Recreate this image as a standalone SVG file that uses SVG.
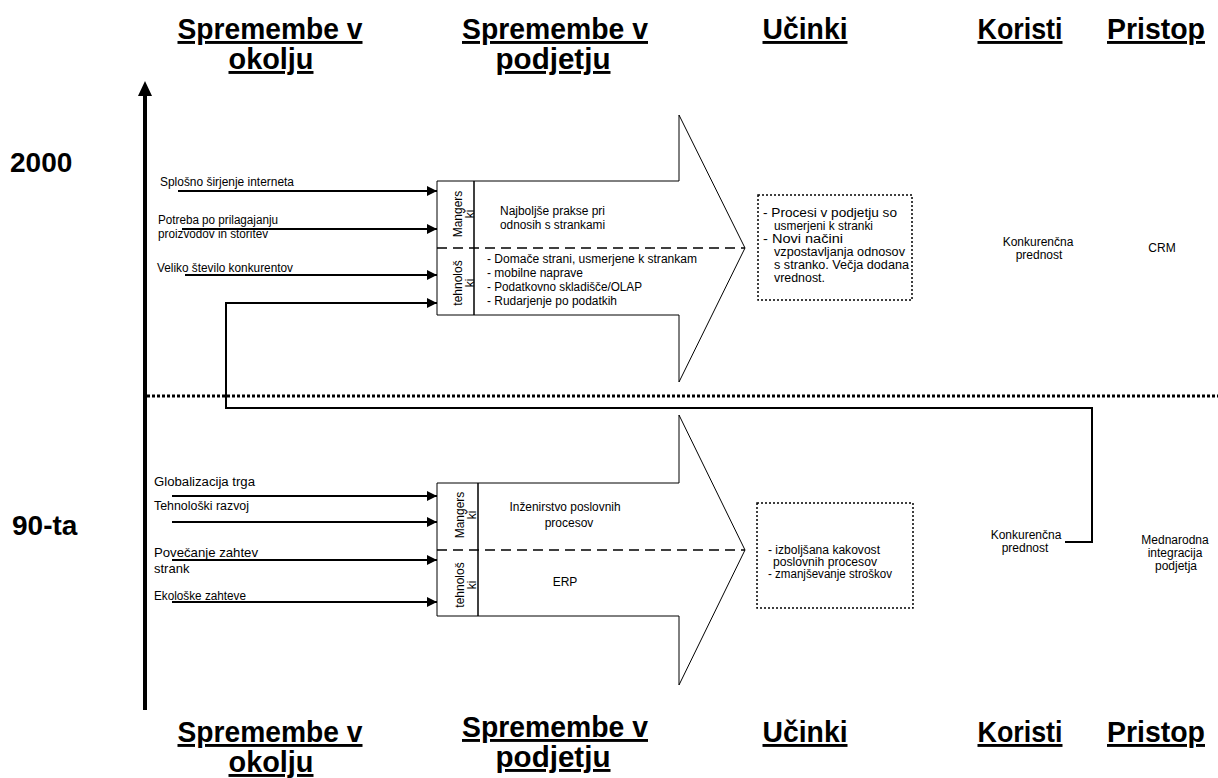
<svg xmlns="http://www.w3.org/2000/svg" width="1218" height="778" viewBox="0 0 1218 778">
<defs>
<marker id="ah" viewBox="0 0 10 10" refX="10" refY="5" markerWidth="5" markerHeight="5" markerUnits="strokeWidth" orient="auto"><path d="M0,0 L10,5 L0,10 z" fill="#000"/></marker>
<style>
text{font-family:"Liberation Sans",Arial,sans-serif;fill:#000}
.hd{font-size:29px;font-weight:bold;text-decoration:underline;text-anchor:middle}
.yr{font-size:28px;font-weight:bold}
.s{font-size:12px}
.m{font-size:13px}
.c{text-anchor:middle}
.in{stroke:#000;stroke-width:2;fill:none;marker-end:url(#ah)}
.big{fill:#fff;stroke:#000;stroke-width:1}
.dash{stroke:#000;stroke-width:1.5;stroke-dasharray:10,6;fill:none}
.dot{fill:none;stroke:#000;stroke-width:1.5;stroke-dasharray:2,2}
</style>
</defs>
<g id="headers-top">
<text class="hd" x="270" y="39" textLength="185" lengthAdjust="spacingAndGlyphs">Spremembe v</text>
<text class="hd" x="271" y="69" textLength="85" lengthAdjust="spacingAndGlyphs">okolju</text>
<text class="hd" x="555" y="39" textLength="186" lengthAdjust="spacingAndGlyphs">Spremembe v</text>
<text class="hd" x="553" y="69" textLength="115" lengthAdjust="spacingAndGlyphs">podjetju</text>
<text class="hd" x="805" y="39" textLength="85" lengthAdjust="spacingAndGlyphs">Učinki</text>
<text class="hd" x="1020" y="39" textLength="85" lengthAdjust="spacingAndGlyphs">Koristi</text>
<text class="hd" x="1156" y="39" textLength="98" lengthAdjust="spacingAndGlyphs">Pristop</text>
</g>
<g id="headers-bottom">
<text class="hd" x="270" y="742" textLength="185" lengthAdjust="spacingAndGlyphs">Spremembe v</text>
<text class="hd" x="271" y="772" textLength="85" lengthAdjust="spacingAndGlyphs">okolju</text>
<text class="hd" x="555" y="737" textLength="186" lengthAdjust="spacingAndGlyphs">Spremembe v</text>
<text class="hd" x="553" y="767" textLength="115" lengthAdjust="spacingAndGlyphs">podjetju</text>
<text class="hd" x="805" y="742" textLength="85" lengthAdjust="spacingAndGlyphs">Učinki</text>
<text class="hd" x="1020" y="742" textLength="85" lengthAdjust="spacingAndGlyphs">Koristi</text>
<text class="hd" x="1156" y="742" textLength="98" lengthAdjust="spacingAndGlyphs">Pristop</text>
</g>
<g id="axis">
<line x1="145" y1="710" x2="145" y2="92" stroke="#000" stroke-width="4"/>
<path d="M145,81 L152,96 L138,96 z" fill="#000"/>
<text class="yr" x="10" y="172">2000</text>
<text class="yr" x="12" y="535">90-ta</text>
<line x1="147" y1="396" x2="1218" y2="396" stroke="#000" stroke-width="3" stroke-dasharray="3,2"/>
</g>
<g id="arrow-2000">
<path class="big" d="M437,181 L679,181 L679,115 L745,248 L679,382 L679,315 L437,315 z"/>
<line x1="474" y1="181" x2="474" y2="315" stroke="#000" stroke-width="1.5"/>
<line class="dash" x1="437" y1="248" x2="745" y2="248"/>
<text class="s c" transform="translate(462,214) rotate(-90)">Mangers<tspan x="0" y="12">ki</tspan></text>
<text class="s c" transform="translate(462,283) rotate(-90)">tehnološ<tspan x="0" y="12">ki</tspan></text>
<text class="s" x="500" y="215" textLength="105" lengthAdjust="spacingAndGlyphs">Najboljše prakse pri</text>
<text class="s" x="500" y="229" textLength="105" lengthAdjust="spacingAndGlyphs">odnosih s strankami</text>
<text class="s" x="487" y="263" textLength="210" lengthAdjust="spacingAndGlyphs">- Domače strani, usmerjene k strankam</text>
<text class="s" x="487" y="277" textLength="96" lengthAdjust="spacingAndGlyphs">- mobilne naprave</text>
<text class="s" x="487" y="291" textLength="155" lengthAdjust="spacingAndGlyphs">- Podatkovno skladišče/OLAP</text>
<text class="s" x="487" y="305" textLength="130" lengthAdjust="spacingAndGlyphs">- Rudarjenje po podatkih</text>
</g>
<g id="arrow-90">
<path class="big" d="M437,483 L679,483 L679,415 L745,550 L679,685 L679,616 L437,616 z"/>
<line x1="478" y1="483" x2="478" y2="616" stroke="#000" stroke-width="1.5"/>
<line class="dash" x1="437" y1="550" x2="745" y2="550"/>
<text class="s c" transform="translate(464,515) rotate(-90)">Mangers<tspan x="0" y="12">ki</tspan></text>
<text class="s c" transform="translate(464,585) rotate(-90)">tehnološ<tspan x="0" y="12">ki</tspan></text>
<text class="s c" x="565" y="511" textLength="111" lengthAdjust="spacingAndGlyphs">Inženirstvo poslovnih</text>
<text class="s c" x="569" y="527">procesov</text>
<text class="s c" x="565" y="586">ERP</text>
</g>
<g id="ucinki-2000">
<rect class="dot" x="758" y="195" width="154" height="105"/>
<text class="s" x="763" y="217" textLength="134" lengthAdjust="spacingAndGlyphs">- Procesi v podjetju so</text>
<text class="s" x="774" y="230" textLength="99" lengthAdjust="spacingAndGlyphs">usmerjeni k stranki</text>
<text class="s" x="763" y="243" textLength="80" lengthAdjust="spacingAndGlyphs">- Novi načini</text>
<text class="s" x="774" y="256" textLength="131" lengthAdjust="spacingAndGlyphs">vzpostavljanja odnosov</text>
<text class="s" x="774" y="269" textLength="135" lengthAdjust="spacingAndGlyphs">s stranko. Večja dodana</text>
<text class="s" x="774" y="282" textLength="51" lengthAdjust="spacingAndGlyphs">vrednost.</text>
</g>
<g id="ucinki-90">
<rect class="dot" x="757" y="503" width="156" height="105"/>
<text class="s" x="768" y="554" textLength="112" lengthAdjust="spacingAndGlyphs">- izboljšana kakovost</text>
<text class="s" x="773" y="566" textLength="104" lengthAdjust="spacingAndGlyphs">poslovnih procesov</text>
<text class="s" x="768" y="578" textLength="124" lengthAdjust="spacingAndGlyphs">- zmanjševanje stroškov</text>
</g>
<g id="koristi-2000"><text class="s c" x="1038" y="246">Konkurenčna</text><text class="s c" x="1039" y="259">prednost</text></g>
<g id="pristop-2000"><text class="s c" x="1162" y="252">CRM</text></g>
<g id="koristi-90"><text class="s c" x="1026" y="539">Konkurenčna</text><text class="s c" x="1025" y="552">prednost</text></g>
<g id="pristop-90"><text class="s c" x="1175" y="544">Mednarodna</text><text class="s c" x="1175" y="557">integracija</text><text class="s c" x="1176" y="570">podjetja</text></g>
<g id="inputs-2000">
<text class="s" x="160" y="186" textLength="134" lengthAdjust="spacingAndGlyphs">Splošno širjenje interneta</text>
<text class="s" x="158" y="224" textLength="120" lengthAdjust="spacingAndGlyphs">Potreba po prilagajanju</text>
<text class="s" x="158" y="238" textLength="110" lengthAdjust="spacingAndGlyphs">proizvodov in storitev</text>
<text class="s" x="157" y="272" textLength="136" lengthAdjust="spacingAndGlyphs">Veliko število konkurentov</text>
</g>
<g id="inputs-90">
<text class="s" x="154" y="486" textLength="101" lengthAdjust="spacingAndGlyphs">Globalizacija trga</text>
<text class="s" x="154" y="510" textLength="95" lengthAdjust="spacingAndGlyphs">Tehnološki razvoj</text>
<text class="m" x="154" y="557" textLength="104" lengthAdjust="spacingAndGlyphs">Povečanje zahtev</text>
<text class="m" x="154" y="573">strank</text>
<text class="s" x="154" y="600" textLength="92" lengthAdjust="spacingAndGlyphs">Ekološke zahteve</text>
</g>
<g id="connectors">
<line class="in" x1="178" y1="191" x2="437" y2="191"/>
<line class="in" x1="182" y1="229" x2="437" y2="229"/>
<line class="in" x1="185" y1="275" x2="437" y2="275"/>
<path class="in" d="M1065,542 L1092,542 L1092,408 L226,408 L226,303 L437,303"/>
<line class="in" x1="172" y1="496" x2="437" y2="496"/>
<line class="in" x1="172" y1="522" x2="437" y2="522"/>
<line class="in" x1="172" y1="560" x2="437" y2="560"/>
<line class="in" x1="172" y1="602" x2="437" y2="602"/>
</g>
</svg>
